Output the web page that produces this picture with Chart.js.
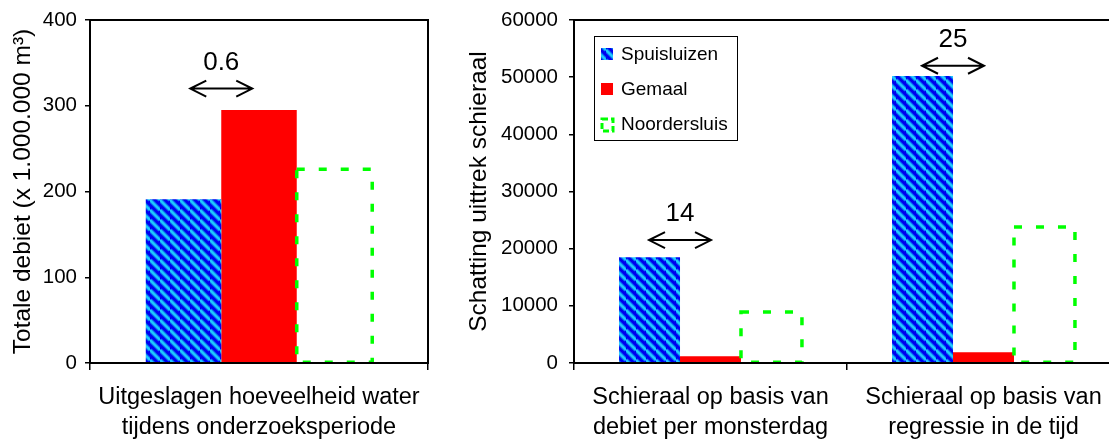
<!DOCTYPE html>
<html>
<head>
<meta charset="utf-8">
<script src="https://cdn.jsdelivr.net/npm/chart.js@4.4.1/dist/chart.umd.min.js"></script>
<style>
  html, body { margin: 0; padding: 0; background: #fff; overflow: hidden; }
  #wrap { position: relative; width: 1109px; height: 441px; overflow: hidden; }
  #left-box { position: absolute; left: 0; top: 0; width: 456px; height: 441px; }
  #right-box { position: absolute; left: 456px; top: 0; width: 669px; height: 441px; }
</style>
</head>
<body>
<div id="wrap">
  <div id="left-box"><canvas id="left-chart"></canvas></div>
  <div id="right-box"><canvas id="right-chart"></canvas></div>
</div>
<script>
// Data
const seriesNames = ['Spuisluizen', 'Gemaal', 'Noordersluis'];

const leftCategories = [['Uitgeslagen hoeveelheid water', 'tijdens onderzoeksperiode']];
const leftSpui = [191];
const leftGemaal = [295];
const leftNoord = [226];
const leftTicks = [0, 100, 200, 300, 400];
const leftTitle = 'Totale debiet (x 1.000.000 m³)';
const leftGapLabels = ['0.6'];
const leftGapY = [320];

const rightCategories = [['Schieraal op basis van', 'debiet per monsterdag'], ['Schieraal op basis van', 'regressie in de tijd']];
const rightSpui = [18500, 50200];
const rightGemaal = [1200, 1900];
const rightNoord = [8900, 23800];
const rightTicks = [0, 10000, 20000, 30000, 40000, 50000, 60000];
const rightTitle = 'Schatting uittrek schieraal';
const rightGapLabels = ['14', '25'];
const rightGapY = [21500, 52000];

Chart.defaults.font.family = '"Liberation Sans", Arial, sans-serif';
Chart.defaults.color = '#000';

const GREEN = '#00ff00';
const RED = '#ff0000';

// blue / cyan diagonal stripes
function makeStripes() {
  const c = document.createElement('canvas');
  c.width = 10; c.height = 10;
  const g = c.getContext('2d');
  g.fillStyle = '#0000f0';
  g.fillRect(0, 0, 10, 10);
  const stroke = (w, col) => {
    g.strokeStyle = col;
    g.lineWidth = w;
    [-10, 0, 10].forEach(k => {
      g.beginPath();
      g.moveTo(0, k);
      g.lineTo(10, 10 + k);
      g.stroke();
    });
  };
  stroke(4.2, '#0a7ef2');
  stroke(2, '#22ccff');
  return g.createPattern(c, 'repeat');
}
const stripes = makeStripes();

// frame round the plot
const framePlugin = {
  id: 'frame',
  afterDraw(chart) {
    const { ctx, chartArea: a } = chart;
    ctx.save();
    ctx.strokeStyle = '#000';
    ctx.lineWidth = 2;
    ctx.strokeRect(a.left, a.top, a.right - a.left, a.bottom - a.top);
    ctx.restore();
  }
};

// dashed outline for Noordersluis bars
const dashedBars = {
  id: 'dashedBars',
  afterDatasetsDraw(chart) {
    const meta = chart.getDatasetMeta(2);
    const ctx = chart.ctx;
    ctx.save();
    ctx.strokeStyle = GREEN;
    ctx.lineWidth = 3.5;
    ctx.setLineDash([8, 14]);
    meta.data.forEach(el => {
      const p = el.getProps(['x', 'y', 'base', 'width'], true);
      ctx.strokeRect(p.x - p.width / 2, p.y, p.width, p.base - p.y);
    });
    ctx.restore();
  }
};

// double arrows with the ratio above them
const gapArrows = {
  id: 'gapArrows',
  afterDraw(chart, args, opts) {
    const ctx = chart.ctx;
    const yScale = chart.scales.y;
    const blue = chart.getDatasetMeta(0).data;
    const red = chart.getDatasetMeta(1).data;
    ctx.save();
    ctx.strokeStyle = '#000';
    ctx.fillStyle = '#000';
    ctx.lineWidth = 2;
    opts.labels.forEach((lab, i) => {
      const b = blue[i].getProps(['x', 'width'], true);
      const r = red[i].getProps(['x', 'width'], true);
      const cx = ((b.x + b.width / 2) + (r.x - r.width / 2)) / 2;
      const y = yScale.getPixelForValue(opts.values[i]);
      const x1 = cx - 31, x2 = cx + 31;
      ctx.beginPath();
      ctx.moveTo(x1, y); ctx.lineTo(x2, y);
      ctx.moveTo(x1 + 16, y - 8); ctx.lineTo(x1, y); ctx.lineTo(x1 + 16, y + 8);
      ctx.moveTo(x2 - 16, y - 8); ctx.lineTo(x2, y); ctx.lineTo(x2 - 16, y + 8);
      ctx.stroke();
      ctx.font = '26px "Liberation Sans", Arial, sans-serif';
      ctx.textAlign = 'center';
      ctx.textBaseline = 'middle';
      ctx.fillText(lab, cx, y - 26);
    });
    ctx.restore();
  }
};

// boxed legend inside the plot
const boxLegend = {
  id: 'boxLegend',
  afterDraw(chart, args, opts) {
    if (!opts.show) return;
    const { ctx, chartArea: a } = chart;
    const left = a.left + 20, top = a.top + 16;
    ctx.save();
    ctx.fillStyle = '#fff';
    ctx.fillRect(left, top, 143, 104);
    ctx.strokeStyle = '#000';
    ctx.lineWidth = 1;
    ctx.strokeRect(left + 0.5, top + 0.5, 143, 104);
    ctx.font = '19px "Liberation Sans", Arial, sans-serif';
    ctx.textBaseline = 'middle';
    ctx.textAlign = 'left';
    chart.data.datasets.forEach((ds, i) => {
      const cy = top + 18 + i * 35;
      const sx = left + 7;
      if (i === 2) {
        ctx.strokeStyle = GREEN;
        ctx.lineWidth = 3;
        ctx.setLineDash([6, 3]);
        ctx.strokeRect(sx + 1, cy - 5, 11, 12);
        ctx.setLineDash([]);
      } else {
        ctx.fillStyle = ds.backgroundColor;
        ctx.fillRect(sx, cy - 6, 12, 12);
      }
      ctx.fillStyle = '#000';
      ctx.fillText(ds.label, left + 27, cy + 1);
    });
    ctx.restore();
  }
};

function makeDatasets(spui, gemaal, noord) {
  const common = { categoryPercentage: 0.67, barPercentage: 1, borderWidth: 0 };
  return [
    { label: seriesNames[0], data: spui, backgroundColor: stripes, ...common },
    { label: seriesNames[1], data: gemaal, backgroundColor: RED, ...common },
    { label: seriesNames[2], data: noord, backgroundColor: 'rgba(0,0,0,0)', ...common }
  ];
}

// no extra label padding, so the plot box sits where layout.padding puts it
function noPad(s) {
  s.paddingTop = 0; s.paddingBottom = 0; s.paddingLeft = 0; s.paddingRight = 0;
}

function makeOptions(o) {
  return {
    responsive: true,
    maintainAspectRatio: false,
    animation: false,
    events: [],
    layout: { padding: { top: 20, right: o.padRight, bottom: 0, left: 0 } },
    plugins: {
      legend: { display: false },
      tooltip: { enabled: false },
      gapArrows: { labels: o.gapLabels, values: o.gapY },
      boxLegend: { show: o.legend }
    },
    scales: {
      x: {
        grid: { offset: true, drawOnChartArea: false, tickLength: 7, color: '#000', lineWidth: 1.5 },
        border: { color: '#000', width: 2 },
        ticks: { padding: 13, maxRotation: 0, autoSkip: false, font: { size: 23.5, lineHeight: '30px' } },
        afterFit: s => { s.height = 78; noPad(s); }
      },
      y: {
        min: o.ticks[0],
        max: o.ticks[o.ticks.length - 1],
        grid: { drawOnChartArea: false, tickLength: 5, color: '#000', lineWidth: 1.5 },
        border: { color: '#000', width: 2 },
        ticks: { stepSize: o.ticks[1] - o.ticks[0], padding: o.tickPad, font: { size: 20.5 }, callback: v => String(v) },
        title: { display: true, text: o.title, font: { size: 24.5, lineHeight: '30px' }, padding: { top: 8, bottom: 0 } },
        afterFit: s => { s.width = o.yWidth; noPad(s); }
      }
    }
  };
}

new Chart(document.getElementById('left-chart'), {
  type: 'bar',
  data: { labels: leftCategories, datasets: makeDatasets(leftSpui, leftGemaal, leftNoord) },
  options: makeOptions({ ticks: leftTicks, title: leftTitle, padRight: 28, yWidth: 90, tickPad: 8, gapLabels: leftGapLabels, gapY: leftGapY, legend: false }),
  plugins: [dashedBars, framePlugin, gapArrows, boxLegend]
});

new Chart(document.getElementById('right-chart'), {
  type: 'bar',
  data: { labels: rightCategories, datasets: makeDatasets(rightSpui, rightGemaal, rightNoord) },
  options: makeOptions({ ticks: rightTicks, title: rightTitle, padRight: 5, yWidth: 118, tickPad: 11, gapLabels: rightGapLabels, gapY: rightGapY, legend: true }),
  plugins: [dashedBars, framePlugin, gapArrows, boxLegend]
});
</script>
</body>
</html>
